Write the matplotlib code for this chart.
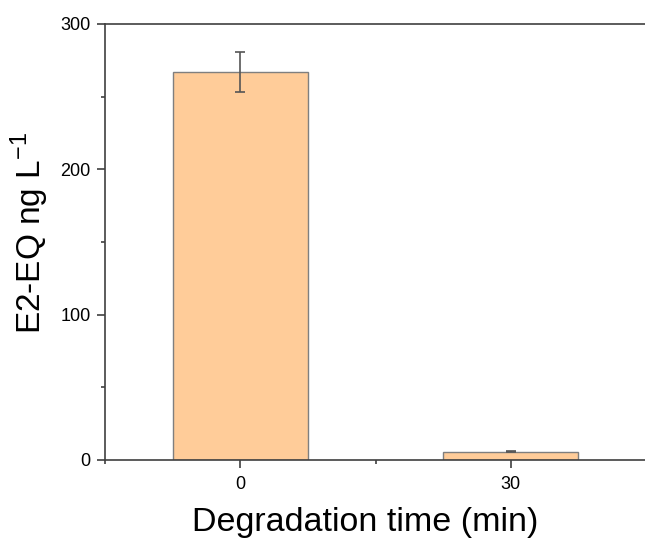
import matplotlib
matplotlib.use('Agg')
import matplotlib.pyplot as plt
from matplotlib.ticker import MultipleLocator

plt.rcParams['font.family'] = ['Liberation Sans', 'DejaVu Sans']
plt.rcParams['mathtext.fontset'] = 'custom'
plt.rcParams['mathtext.rm'] = 'Liberation Sans'

times = ['0', '30']
values = [267, 5.7]
errors = [13.5, 0.4]

fig = plt.figure(figsize=(6.45, 5.38), dpi=100)
# axes run to the right edge, as in the cropped original
ax = fig.add_axes([0.1628, 0.145, 0.8388, 0.8104])

pos = list(range(len(times)))
ax.bar(pos, values, width=0.5, color='#FFCC99', edgecolor='#7f7f7f', linewidth=1.0,
       yerr=errors, error_kw=dict(ecolor='#555555', elinewidth=1.2, capsize=3.5, capthick=1.2))

ax.set_xlim(-0.5, 1.5)
ax.set_ylim(0, 300)
ax.set_xticks(pos)
ax.set_xticklabels(times)
ax.xaxis.set_minor_locator(MultipleLocator(0.5))
ax.yaxis.set_major_locator(MultipleLocator(100))
ax.yaxis.set_minor_locator(MultipleLocator(50))

for s in ['top', 'bottom', 'left', 'right']:
    ax.spines[s].set_linewidth(1.2)
    ax.spines[s].set_color('#404040')
ax.tick_params(which='major', direction='out', length=5.5, width=1.2, labelsize=13,
               color='#404040', pad=5)
ax.tick_params(axis='x', which='major', pad=6)
ax.tick_params(which='minor', direction='out', length=3, width=1.2, color='#404040')

ax.set_xlabel('Degradation time (min)', fontsize=24.5)
ax.xaxis.label.set_verticalalignment('baseline')
ax.xaxis.set_label_coords(0.48, -(531 - 460) / 436)
ax.set_ylabel('E2-EQ ng L$^{\\mathregular{-1}}$', fontsize=24)
ax.yaxis.set_label_coords(-(105 - 9) / 541, 0.52)
ax.yaxis.label.set_verticalalignment('top')

fig.savefig('out.png', dpi=100)
